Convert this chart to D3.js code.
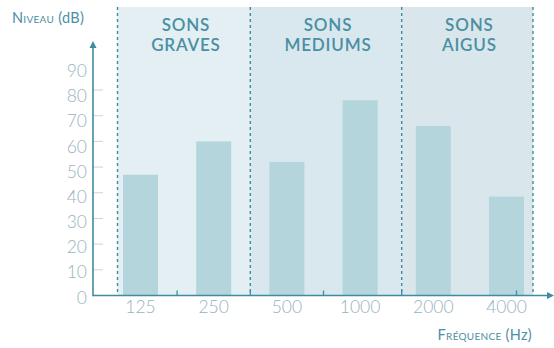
<!DOCTYPE html>
<html>
<head>
<meta charset="utf-8">
<script src="https://cdn.jsdelivr.net/npm/d3@7/dist/d3.min.js"></script>
<style>
  html, body { margin: 0; padding: 0; background: #fff; }
  svg { display: block; font-family: Lato, "Open Sans", "DejaVu Sans", sans-serif; }
</style>
</head>
<body>
<svg id="chart" width="554" height="348"></svg>
<script>
// Sound level by frequency band
const frequencies = ["125", "250", "500", "1000", "2000", "4000"];
const levels = [47, 60, 52, 76, 66, 38.5];
const yTicks = [0, 10, 20, 30, 40, 50, 60, 70, 80, 90];
const groupNames = [["SONS", "GRAVES"], ["SONS", "MEDIUMS"], ["SONS", "AIGUS"]];
const groupMembers = [["125", "250"], ["500", "1000"], ["2000", "4000"]];
const yTitle = ["Niveau", " (dB)"];
const xTitle = ["Fréquence", " (Hz)"];

const teal = "#3f8ca1";
const labelGrey = "#97b3be";
const bandFills = ["#e3eff3", "#d9e8ee", "#d9e7ed"];
const barFill = "#b5d5dc";

const svg = d3.select("#chart");

const x0 = 93, yBase = 295.5, yTop = 7;

const x = d3.scalePoint().domain(frequencies).range([140.5, 506.5]);
const barW = 35;
const y = d3.scaleLinear().domain([0, 80]).range([yBase, 90]);

// group boundaries between frequency columns
const bounds = [
  x(frequencies[0]) - 23,
  (x("250") + x("500")) / 2,
  (x("1000") + x("2000")) / 2 + 5,
  x(frequencies[frequencies.length - 1]) + 26.5
];

// shaded bands
groupMembers.forEach((g, i) => {
  svg.append("rect")
    .attr("x", bounds[i]).attr("y", yTop)
    .attr("width", bounds[i + 1] - bounds[i])
    .attr("height", yBase - yTop)
    .attr("fill", bandFills[i]);
});

// bars
svg.append("g").selectAll("rect")
  .data(frequencies.map((f, i) => ({ f, v: levels[i] })))
  .join("rect")
  .attr("x", d => x(d.f) - barW / 2)
  .attr("width", barW)
  .attr("y", d => y(d.v))
  .attr("height", d => yBase - y(d.v))
  .attr("fill", barFill);

// dashed separators
svg.append("g").selectAll("line")
  .data(bounds)
  .join("line")
  .attr("x1", d => d).attr("x2", d => d)
  .attr("y1", yTop).attr("y2", yBase)
  .attr("stroke", teal)
  .attr("stroke-width", 1.4)
  .attr("stroke-dasharray", "3,3");

// group headings
groupNames.forEach((lines, i) => {
  const cx = (bounds[i] + bounds[i + 1]) / 2 + 2;
  const t = svg.append("text")
    .attr("x", cx).attr("y", 31)
    .attr("text-anchor", "middle")
    .attr("fill", "#4a8fa3")
    .attr("font-size", 17)
    .attr("font-weight", 600)
    .attr("letter-spacing", 0.8);
  lines.forEach((l, k) => {
    t.append("tspan").attr("x", cx).attr("dy", k === 0 ? 0 : 19.5).text(l);
  });
});

// y tick marks
svg.append("g").selectAll("line")
  .data(yTicks.filter(v => v > 0 && v < 90))
  .join("line")
  .attr("x1", x0).attr("x2", x0 + 10)
  .attr("y1", d => y(d)).attr("y2", d => y(d))
  .attr("stroke", "#c9d5d9").attr("stroke-width", 1);

// y tick labels
svg.append("g").selectAll("text")
  .data(yTicks)
  .join("text")
  .attr("x", 87)
  .attr("y", d => y(d) + 2 + d * 0.05)
  .attr("dy", "0.35em")
  .attr("text-anchor", "end")
  .attr("fill", labelGrey)
  .attr("font-size", 17.5)
  .attr("font-weight", 300)
  .text(d => d);

// x tick labels
svg.append("g").selectAll("text")
  .data(frequencies)
  .join("text")
  .attr("x", d => x(d))
  .attr("y", 313)
  .attr("text-anchor", "middle")
  .attr("fill", labelGrey)
  .attr("font-size", 17.5)
  .attr("font-weight", 300)
  .text(d => d);

// small marks on the x axis
const xMarks = [
  (x("125") + x("250")) / 2,
  bounds[1],
  (x("500") + x("1000")) / 2,
  bounds[2],
  x("4000") + 10
];
svg.append("g").selectAll("line")
  .data(xMarks)
  .join("line")
  .attr("x1", d => d).attr("x2", d => d)
  .attr("y1", yBase).attr("y2", yBase - 5)
  .attr("stroke", teal).attr("stroke-width", 1.3);

// axes with arrow heads
svg.append("line")
  .attr("x1", x0).attr("x2", x0)
  .attr("y1", yBase + 0.7).attr("y2", 46)
  .attr("stroke", teal).attr("stroke-width", 1.6);
svg.append("path")
  .attr("d", `M${x0},41 L${x0 - 3.5},48 L${x0 + 3.5},48 Z`)
  .attr("fill", teal);
svg.append("line")
  .attr("x1", x0).attr("x2", 549)
  .attr("y1", yBase).attr("y2", yBase)
  .attr("stroke", teal).attr("stroke-width", 1.6);
svg.append("path")
  .attr("d", `M554,${yBase} L547,${yBase - 3.5} L547,${yBase + 3.5} Z`)
  .attr("fill", teal);

// axis titles: word in small caps, unit in normal case
function axisTitle(parts, px, py, anchor) {
  const t = svg.append("text")
    .attr("x", px).attr("y", py)
    .attr("text-anchor", anchor)
    .attr("fill", "#4a8fa3")
    .attr("font-size", 14.5)
    .attr("letter-spacing", 0.3);
  t.append("tspan").attr("font-variant", "small-caps").text(parts[0]);
  t.append("tspan").text(parts[1]);
}
axisTitle(yTitle, 12, 23, "start");
axisTitle(xTitle, 532, 340, "end");
</script>
</body>
</html>
